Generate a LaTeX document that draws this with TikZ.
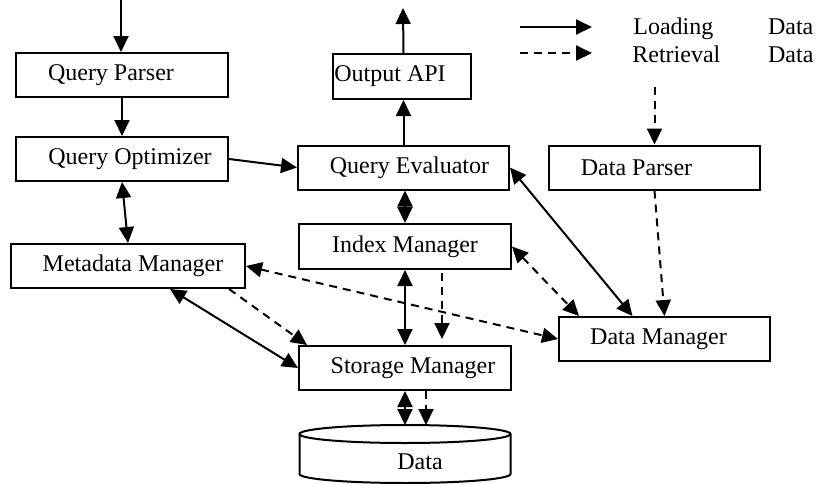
\documentclass[tikz,border=0pt]{standalone}
\usepackage{fontspec}
\setmainfont{Liberation Serif}
\usetikzlibrary{arrows.meta}
\tikzstyle{box} = [draw=black, line width=1pt, minimum width=106pt,%
	minimum height=22pt, inner sep=0pt]
\tikzstyle{lbl} = [font=\fontsize{12}{14}\selectfont, inner sep=0pt,%
	anchor=base, yshift=0pt]
\tikzstyle{link} = [line width=1pt, black]
\tikzstyle{back} = [link, dash pattern=on 4pt off 3pt]
\begin{document}
\begin{tikzpicture}[x=0.5pt, y=-0.5pt, >={Triangle[length=8pt,width=7.5pt]}]
		\useasboundingbox (0,0) rectangle (821,483);
		\node[box, label={[lbl,xshift=-5.5pt]center:Query Parser}] (qp) at (122,75) {};
		\node[box, label={[lbl,xshift=4pt]center:Query Optimizer}] (qo) at (122,159) {};
		\node[box, minimum width=117pt, label={[lbl,xshift=2.5pt]center:Metadata Manager}] (mm) at (128,266) {};
		\node[box, minimum width=69pt, minimum height=22.5pt, label={[lbl,xshift=-6pt]center:Output API}] (oa) at (402,76.5) {};
		\node[box, minimum width=105.5pt, label={[lbl,xshift=3pt]center:Query Evaluator}] (qe) at (403.5,167.5) {};
		\node[box, minimum width=105.5pt, label={[lbl,xshift=-9pt]center:Data Parser}] (dp) at (654.5,167.5) {};
		\node[box, minimum height=22.5pt, label={[lbl]center:Index Manager}] (im) at (405,246.5) {};
		\node[box, label={[lbl,xshift=4pt]center:Storage Manager}] (sm) at (405,368) {};
		\node[box, minimum width=105.5pt, label={[lbl,xshift=-3pt]center:Data Manager}] (dm) at (664.5,339) {};
		\draw[line width=1pt] (405,434) ellipse [x radius=52.75pt, y radius=4.5pt];
		\draw[line width=1pt] (299.5,434) -- (299.5,474) arc[start angle=180, end angle=360, x radius=52.75pt, y radius=4.5pt] -- (510.5,434);
		\node[lbl] (db) at (420,469) {Data};
		\coordinate (dbtop) at (405,425);
		\coordinate (qin) at (121,0);
		\coordinate (qout) at (403,8);
		\coordinate (din) at (654.5,87);
		\draw[link,->] (qin) -- (qin |- qp.north);
		\draw[link,->] (qp.south) -- (qo.north);
		\draw[link,->] (qo.east) -- (qe.west);
		\draw[link,<->] (qo.south) -- (mm.north);
		\draw[link,->] (qe.north) -- (qe.north |- oa.south);
		\draw[link,->] (qe.north |- oa.north) -- (qout);
		\draw[link,<->] (im.north |- qe.south) -- (im.north);
		\draw[link,<->] (qe.east) -- ([xshift=-16pt]dm.north);
		\draw[back,->] (din) -- (din |- dp.north);
		\draw[back,->] (dp.south) -- (dm.north);
		\draw[back,<->] (im.east) -- ([xshift=10.5pt]dm.north west);
		\draw[back,<->] (mm.east) -- (dm.west);
		\draw[back,->] ([xshift=-8.5pt]mm.south east) -- ([xshift=4.5pt]sm.north west);
		\draw[link,<->] ([xshift=21pt]mm.south) -- (sm.west);
		\draw[link,<->] (im.south) -- (sm.north);
		\draw[back,->,shorten <=1.5pt,shorten >=3pt] ([xshift=18.5pt]im.south) -- ([xshift=18.5pt]sm.north);
		\draw[link,<->] (sm.south) -- (dbtop);
		\draw[back,->] ([xshift=10.5pt]sm.south) -- ([xshift=10.5pt]dbtop);
		\coordinate (lgsa) at (520,27);
		\coordinate (lgsb) at (592,27);
		\coordinate (lgda) at (520,53);
		\coordinate (lgdb) at (592,53);
		\draw[link,->] (lgsa) -- (lgsb);
		\draw[back,->] (lgda) -- (lgdb);
		\node[lbl, anchor=base west, text width=90pt] (lgload) at (633,34) {Loading\hfill Data};
		\node[lbl, anchor=base west, text width=90.5pt] (lgret) at (632,62) {Retrieval\hfill Data};
	\end{tikzpicture}
\end{document}
